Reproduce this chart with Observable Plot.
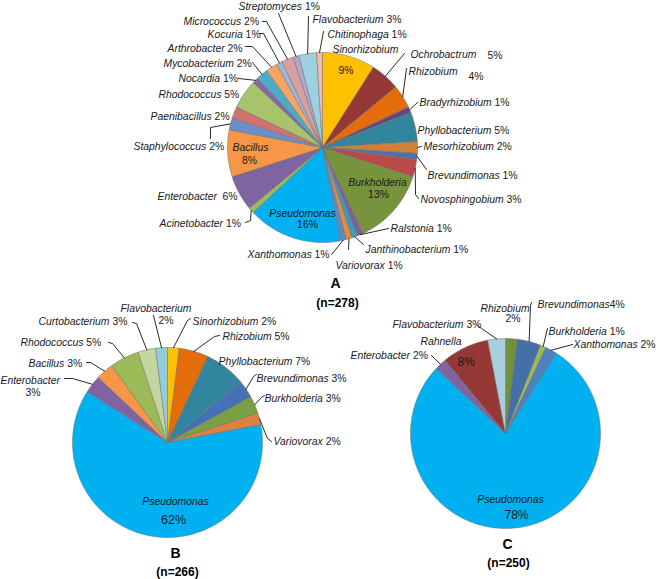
<!DOCTYPE html>
<html><head><meta charset="utf-8">
<script src="https://cdn.jsdelivr.net/npm/d3@7"></script>
<script src="https://cdn.jsdelivr.net/npm/@observablehq/plot@0.6"></script>
<style>body{margin:0;background:#fff}#chart svg{display:block}</style>
</head><body><div id="chart"></div>
<script>
// ---------- data (percent of isolates, clockwise from 12 o'clock) ----------
const namesA = ["Sinorhizobium","Ochrobactrum","Rhizobium","Bradyrhizobium","Phyllobacterium","Mesorhizobium","Brevundimonas","Novosphingobium","Burkholderia","Ralstonia","Janthinobacterium","Variovorax","Xanthomonas","Pseudomonas","Acinetobacter","Enterobacter","Bacillus","Staphylococcus","Paenibacillus","Rhodococcus","Nocardia","Mycobacterium","Arthrobacter","Kocuria","Micrococcus","Streptomyces","Flavobacterium","Chitinophaga"];
const pctA = [9,5,4,1,5,2,1,3,13,1,1,1,1,16,1,6,8,2,2,5,1,2,2,1,2,1,3,1];
const namesB = ["Sinorhizobium","Rhizobium","Phyllobacterium","Brevundimonas","Burkholderia","Variovorax","Pseudomonas","Enterobacter","Bacillus","Rhodococcus","Curtobacterium","Flavobacterium"];
const pctB = [2,5,7,3,3,2,62,3,3,5,3,2];
const namesC = ["Rhizobium","Brevundimonas","Burkholderia","Xanthomonas","Pseudomonas","Enterobacter","Rahnella","Flavobacterium"];
const pctC = [2,4,1,2,78,2,8,3];
const panelLetters = ["A","B","C"];
const panelN = ["(n=278)","(n=266)","(n=250)"];

// ---------- styles ----------
const colorsA = ["#FFC000","#953735","#E46C0A","#604A7B","#31859C","#D08138","#4A70B0","#B94A48","#77933C","#7D5FA0","#3A9DB5","#E8893C","#5B8AC6","#00B0F0","#9BBB59","#8064A2","#F79646","#6A8FCB","#D07270","#A7C46C","#8467A6","#4BACC6","#F8A465","#9DB7DA","#D9A0A0","#B5A6CB","#9ED0E0","#F5BBA3"];
const colorsB = ["#FFC000","#E46C0A","#31859C","#4470B5","#79A043","#E08040","#00B0F0","#8064A2","#F79646","#9BBB59","#C4D6A0","#93CDDD"];
const colorsC = ["#71913D","#4470A8","#9BBB59","#4F81BD","#00B0F0","#8064A2","#953735","#A9CFDF"];

// ---------- layout ----------
const R = 95;
const FONT = "'Liberation Sans', Arial, sans-serif";
const FS = 10.4;
const pies = [
  {id:"A", names:namesA, pct:pctA, colors:colorsA, cx:322, cy:147, title:{x:335,y:287,nx:337,ny:306}},
  {id:"B", names:namesB, pct:pctB, colors:colorsB, cx:167, cy:442, title:{x:175,y:557,nx:177,ny:575}},
  {id:"C", names:namesC, pct:pctC, colors:colorsC, cx:505, cy:433, title:{x:507,y:548,nx:508,ny:566}}
];
// label placement: name left x / baseline, optional percent position, leader waypoints (ends at slice edge)
const labelsA = {
  Sinorhizobium:{nx:332,ny:52,px:338,py:73},
  Ochrobactrum:{nx:410,ny:57,px:487,py:58,leader:[[404,53]]},
  Rhizobium:{nx:408,ny:74,px:468,py:79,leader:[[406,68]]},
  Bradyrhizobium:{nx:419,ny:105,leader:[[417,102]]},
  Phyllobacterium:{nx:417,ny:133},
  Mesorhizobium:{nx:423,ny:149,leader:[[421,146]]},
  Brevundimonas:{nx:427,ny:178,leader:[[426,169]]},
  Novosphingobium:{nx:420,ny:202,leader:[[418,198],[415,194]]},
  Burkholderia:{anchor:"middle",nx:377,ny:185,px:378,py:197},
  Ralstonia:{nx:390,ny:231,leader:[[388,228]]},
  Janthinobacterium:{nx:365,ny:252,leader:[[363,244]]},
  Variovorax:{nx:335,ny:268,leader:[[348,249]]},
  Xanthomonas:{nx:247,ny:257,leader:[[331,254]]},
  Pseudomonas:{anchor:"middle",nx:302,ny:216,px:307,py:227},
  Acinetobacter:{nx:159,ny:226,leader:[[245,222],[250,220]]},
  Enterobacter:{nx:157,ny:199,px:222,py:199},
  Bacillus:{anchor:"middle",nx:250,ny:150,px:249,py:163},
  Staphylococcus:{nx:133,ny:149,leader:[[210,138],[210,127]]},
  Paenibacillus:{nx:150,ny:119},
  Rhodococcus:{nx:158,ny:97},
  Nocardia:{nx:178,ny:81,leader:[[238,78]]},
  Mycobacterium:{nx:163,ny:66,leader:[[252,62]]},
  Arthrobacter:{nx:167,ny:51,leader:[[245,46],[252,46]]},
  Kocuria:{nx:207,ny:37,leader:[[259,33],[263,33]]},
  Micrococcus:{nx:183,ny:24,leader:[[262,21],[266,21]]},
  Streptomyces:{nx:238,ny:9,leader:[[278,13]]},
  Flavobacterium:{nx:312,ny:22,leader:[[308,16]]},
  Chitinophaga:{nx:327,ny:37,leader:[[323,31]]}
};
const labelsB = {
  Sinorhizobium:{nx:192,ny:324,leader:[[190,318],[187,320]]},
  Rhizobium:{nx:222,ny:339,leader:[[219,335],[214,336]]},
  Phyllobacterium:{nx:218,ny:364},
  Brevundimonas:{nx:256,ny:381,leader:[[256,374],[253,376]]},
  Burkholderia:{nx:264,ny:401,leader:[[264,395],[261,397]]},
  Variovorax:{nx:273,ny:444,leader:[[271,441],[267,438]]},
  Pseudomonas:{anchor:"middle",nx:175,ny:504,px:173,py:523,pfs:12.5},
  Enterobacter:{nx:0,ny:383,px:25,py:395,leader:[[64,378],[72,378]]},
  Bacillus:{nx:28,ny:366,leader:[[86,362],[90,362]]},
  Rhodococcus:{nx:20,ny:345,leader:[[108,342],[112,343]]},
  Curtobacterium:{nx:38,ny:324,leader:[[132,322],[136,323]]},
  Flavobacterium:{nx:120,ny:311,px:158,py:323,leader:[[153,315]]}
};
const labelsC = {
  Rhizobium:{nx:480,ny:311,px:505,py:321},
  Brevundimonas:{nx:537,ny:307,gap:0,leader:[[531,302],[530,305]]},
  Burkholderia:{nx:548,ny:334,leader:[[547,328]]},
  Xanthomonas:{nx:573,ny:347,leader:[[572,344]]},
  Pseudomonas:{anchor:"middle",nx:510,ny:502,px:516,py:518,pfs:12},
  Enterobacter:{nx:350,ny:358,leader:[[431,355],[434,358]]},
  Rahnella:{nx:420,ny:344,px:457,py:365,pfs:12},
  Flavobacterium:{nx:392,ny:327,leader:[[477,325],[481,328]]}
};
pies[0].labels = labelsA; pies[1].labels = labelsB; pies[2].labels = labelsC;

// ---------- build mark data ----------
const ctx = document.createElement("canvas").getContext("2d");
function tw(s, style){ ctx.font = `${style} ${FS}px ${FONT}`; return ctx.measureText(s).width; }

const slicePts = [], leaderPts = [], nameRows = [], pctRows = [], titleRows = [], nRows = [];
pies.forEach(p => {
  const arcs = d3.pie().sort(null).value(d => d)(p.pct);
  arcs.forEach((a, i) => {
    const key = p.id + i, c = p.colors[i];
    const n = Math.max(2, Math.ceil((a.endAngle - a.startAngle) / (Math.PI / 180)));
    slicePts.push({k:key, x:p.cx, y:p.cy, c});
    for (let j = 0; j <= n; j++) {
      const t = a.startAngle + (a.endAngle - a.startAngle) * j / n;
      slicePts.push({k:key, x:p.cx + R * Math.sin(t), y:p.cy - R * Math.cos(t), c});
    }
    slicePts.push({k:key, x:p.cx, y:p.cy, c});
    const name = p.names[i], L = p.labels[name];
    if (!L) return;
    const anchor = L.anchor || "start";
    nameRows.push({x:L.nx, y:L.ny - 0.32 * FS, text:name, anchor});
    let px = L.px, py = L.py;
    if (px === undefined) { px = L.nx + tw(name, "italic") + (L.gap === 0 ? 0 : tw(" ", "normal")); py = L.ny; }
    const pfs = L.pfs || FS;
    pctRows.push({x:px, y:py - 0.32 * pfs, text:p.pct[i] + "%", anchor, fs:pfs});
    if (L.leader) {
      const mid = (a.startAngle + a.endAngle) / 2;
      L.leader.forEach(([x, y]) => leaderPts.push({k:key, x, y}));
      leaderPts.push({k:key, x:p.cx + R * Math.sin(mid), y:p.cy - R * Math.cos(mid)});
    }
  });
  titleRows.push({x:p.title.x, y:p.title.y - 0.32 * 14, text:p.id});
  nRows.push({x:p.title.nx, y:p.title.ny - 0.32 * 12, text:panelN[panelLetters.indexOf(p.id)]});
});

const textOpts = (extra) => Object.assign({x:"x", y:"y", text:"text", fontFamily:FONT, fontSize:FS, fill:"#1a1a1a", lineAnchor:"middle"}, extra);

const chart = Plot.plot({
  width: 660, height: 579, margin: 0,
  x: {domain:[0,660], range:[0,660], axis:null},
  y: {domain:[0,579], range:[0,579], axis:null},
  color: {type:"identity"},
  style: {background:"#fff", overflow:"visible"},
  marks: [
    Plot.line(slicePts, {x:"x", y:"y", z:"k", fill:"c", stroke:"#6e6e6e", strokeWidth:0.5, strokeLinejoin:"round", curve:"linear"}),
    Plot.line(leaderPts, {x:"x", y:"y", z:"k", stroke:"#111", strokeWidth:0.9, curve:"linear"}),
    Plot.text(nameRows.filter(d => d.anchor === "start"), textOpts({textAnchor:"start", fontStyle:"italic"})),
    Plot.text(nameRows.filter(d => d.anchor === "middle"), textOpts({textAnchor:"middle", fontStyle:"italic"})),
    Plot.text(pctRows.filter(d => d.anchor === "start"), textOpts({textAnchor:"start", fontSize:"fs"})),
    Plot.text(pctRows.filter(d => d.anchor === "middle"), textOpts({textAnchor:"middle", fontSize:"fs"})),
    Plot.text(titleRows, textOpts({textAnchor:"middle", fontSize:14, fontWeight:"bold", fill:"#000"})),
    Plot.text(nRows, textOpts({textAnchor:"middle", fontSize:12, fontWeight:"bold", fill:"#000"}))
  ]
});
document.getElementById("chart").appendChild(chart);
</script>
</body></html>
